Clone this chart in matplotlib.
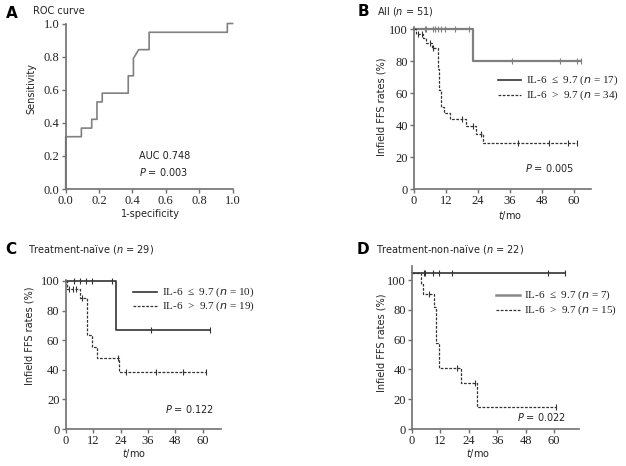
import numpy as np
import matplotlib
matplotlib.use("Agg")
import matplotlib.pyplot as plt
from matplotlib.lines import Line2D

# ---------------- data ----------------
# Panel A: ROC curve
roc_fpr = [0, 0, 0.094, 0.094, 0.156, 0.156, 0.1875, 0.1875, 0.219, 0.219,
           0.375, 0.375, 0.406, 0.406, 0.4375, 0.5, 0.5, 0.969, 0.969, 1.0]
roc_tpr = [0, 0.316, 0.316, 0.368, 0.368, 0.421, 0.421, 0.526, 0.526, 0.579,
           0.579, 0.684, 0.684, 0.789, 0.842, 0.842, 0.947, 0.947, 1.0, 1.0]
roc_ticks = [0.0, 0.2, 0.4, 0.6, 0.8, 1.0]
roc_ticklabels = ["0.0", "0.2", "0.4", "0.6", "0.8", "1.0"]

# Panel B: All (n = 51)
b_low_t = [0, 22.0]
b_low_s = [100, 80]
b_low_end = 62.5
b_low_cens = [4.1, 4.5, 7.0, 8.0, 9.0, 10.3, 11.5, 15.5, 20.5, 36.9, 54.8, 61.2, 62.5]
b_high_t = [0, 0.8, 3.5, 4.5, 6.7, 8.9, 9.4, 10.0, 11.3, 13.5, 19.4, 23.2, 26.0]
b_high_s = [100, 97.1, 94.1, 91.2, 88.2, 75.0, 62.0, 51.0, 47.7, 43.8, 39.2, 34.4, 28.6]
b_high_end = 61.0
b_high_cens = [1.5, 3.0, 6.0, 7.3, 18.1, 22.2, 25.0, 38.9, 50.6, 57.9, 61.0]

# Panel C: Treatment-naive (n = 29)
c_low_t = [0, 22.0]
c_low_s = [100, 66.7]
c_low_end = 63.0
c_low_cens = [3.8, 6.1, 8.9, 11.6, 20.2, 37.1, 63.0]
c_high_t = [0, 0.6, 6.4, 9.3, 11.5, 13.7, 23.4]
c_high_s = [100, 94.7, 88.4, 63.5, 55.6, 48.2, 38.3]
c_high_end = 61.2
c_high_cens = [1.4, 3.3, 4.7, 7.1, 23.0, 26.4, 39.3, 51.4, 61.2]

# Panel D: Treatment-non-naive (n = 22)
d_low_t = [0]
d_low_s = [104.5]
d_low_end = 64.4
d_low_cens = [5.1, 5.6, 8.9, 11.3, 16.7, 57.3, 64.4]
d_high_t = [0, 3.7, 4.6, 9.3, 10.0, 11.3, 20.8, 27.6]
d_high_s = [104.5, 97.0, 90.3, 82.0, 57.4, 40.7, 30.6, 15.0]
d_high_end = 60.7
d_high_cens = [7.0, 19.1, 26.5, 60.7]

km_xticks = [0, 12, 24, 36, 48, 60]
km_yticks = [0, 20, 40, 60, 80, 100]

# ---------------- style ----------------
W, H = 626, 466
fig = plt.figure(figsize=(W / 100, H / 100), dpi=100)
SPINE = "#707070"
SERIF = "Liberation Serif"
LAB = 7
SANS = ["DejaVu Sans"]
plt.rcParams["mathtext.fontset"] = "dejavusans"


def px_axes(left, top, right, bottom):
    return fig.add_axes([left / W, 1 - bottom / H, (right - left) / W, (bottom - top) / H])


def style(ax):
    for s in ["top", "right"]:
        ax.spines[s].set_visible(False)
    for s in ["left", "bottom"]:
        ax.spines[s].set_color(SPINE)
        ax.spines[s].set_linewidth(1.2)
    ax.tick_params(direction="out", length=3, width=1, color=SPINE, pad=1.5,
                   labelsize=9, labelcolor="#222222", labelfontfamily=SERIF)


def ftext(x, y, s, **kw):
    kw.setdefault("family", SANS)
    kw.setdefault("size", LAB)
    kw.setdefault("color", "#222222")
    fig.text(x / W, 1 - y / H, s, **kw)


def km(ax, t, s, end, cens, dashed, color, lw=1.2):
    x = list(t) + [end]
    y = list(s) + [s[-1]]
    if dashed:
        ax.step(x, y, where="post", color=color, lw=0.9, dashes=(2.2, 1.2), clip_on=False)
    else:
        ax.step(x, y, where="post", color=color, lw=lw, clip_on=False)
    idx = np.searchsorted(np.array(t), np.array(cens), side="right") - 1
    ax.plot(cens, np.array(s)[idx], ls="none", marker="|", ms=4, mew=0.8,
            color=color, clip_on=False)


def legend(x0, x1, xt, y1, y2, l1, l2, c1, c2, lw1=1.2):
    fig.add_artist(Line2D([x0 / W, x1 / W], [1 - y1 / H] * 2, color=c1, lw=lw1,
                          transform=fig.transFigure))
    fig.add_artist(Line2D([x0 / W, x1 / W], [1 - y2 / H] * 2, color=c2, lw=0.9,
                          dashes=(2.2, 1.2), transform=fig.transFigure))
    ftext(xt, y1, l1, va="center", family=SERIF, size=8)
    ftext(xt, y2, l2, va="center", family=SERIF, size=8)


# ---------------- Panel A ----------------
axA = px_axes(65.7, 23.5, 232.5, 189)
axA.plot(roc_fpr, roc_tpr, color="#808080", lw=1.2, clip_on=False)
axA.set_xlim(0, 1)
axA.set_ylim(0, 1)
axA.set_xticks(roc_ticks)
axA.set_xticklabels(roc_ticklabels)
axA.set_yticks(roc_ticks)
axA.set_yticklabels(roc_ticklabels)
style(axA)
ftext(12, 13, "A", weight="bold", size=11, ha="center", va="center", color="black")
ftext(33, 11, "ROC curve", va="center")
ftext(31, 89, "Sensitivity", rotation=90, ha="center", va="center")
ftext(150, 214, "1-specificity", ha="center", va="center")
ftext(139, 156, "AUC 0.748", va="center")
ftext(139, 172, "$P$ = 0.003", va="center")

# ---------------- Panel B ----------------
axB = px_axes(414, 27.4, 591, 189)
km(axB, b_low_t, b_low_s, b_low_end, b_low_cens, False, "#808080", lw=1.6)
km(axB, b_high_t, b_high_s, b_high_end, b_high_cens, True, "#333333")
axB.set_xlim(0, 66.4)
axB.set_ylim(0, 101)
axB.set_xticks(km_xticks)
axB.set_yticks(km_yticks)
style(axB)
ftext(363, 12, "B", weight="bold", size=11, ha="center", va="center", color="black")
ftext(377, 12, "All ($n$ = 51)", va="center")
ftext(381, 107, "Infield FFS rates (%)", rotation=90, ha="center", va="center")
ftext(510, 215, "$t$/mo", ha="center", va="center")
ftext(525, 168, "$P$ = 0.005", va="center")
legend(498, 521, 526, 80, 95, "IL-6  ≤  9.7 ($n$ = 17)", "IL-6  >  9.7 ($n$ = 34)",
       "#333333", "#333333")

# ---------------- Panel C ----------------
axC = px_axes(65.7, 279.5, 221, 429)
km(axC, c_low_t, c_low_s, c_low_end, c_low_cens, False, "#333333")
km(axC, c_high_t, c_high_s, c_high_end, c_high_cens, True, "#333333")
axC.set_xlim(0, 67.9)
axC.set_ylim(0, 101)
axC.set_xticks(km_xticks)
axC.set_yticks(km_yticks)
style(axC)
ftext(11, 250, "C", weight="bold", size=11, ha="center", va="center", color="black")
ftext(28, 250, "Treatment-naïve ($n$ = 29)", va="center")
ftext(30, 336, "Infield FFS rates (%)", rotation=90, ha="center", va="center")
ftext(134, 454, "$t$/mo", ha="center", va="center")
ftext(165, 409, "$P$ = 0.122", va="center")
legend(133, 157, 162, 292, 306, "IL-6  ≤  9.7 ($n$ = 10)", "IL-6  >  9.7 ($n$ = 19)",
       "#333333", "#333333")

# ---------------- Panel D ----------------
axD = px_axes(412, 266, 579, 429)
km(axD, d_low_t, d_low_s, d_low_end, d_low_cens, False, "#333333")
km(axD, d_high_t, d_high_s, d_high_end, d_high_cens, True, "#333333")
axD.set_xlim(0, 70.5)
axD.set_ylim(0, 109.4)
axD.set_xticks(km_xticks)
axD.set_yticks(km_yticks)
style(axD)
ftext(363, 250, "D", weight="bold", size=11, ha="center", va="center", color="black")
ftext(376, 250, "Treatment-non-naïve ($n$ = 22)", va="center")
ftext(381, 343, "Infield FFS rates (%)", rotation=90, ha="center", va="center")
ftext(478, 454, "$t$/mo", ha="center", va="center")
ftext(517, 417, "$P$ = 0.022", va="center")
legend(496, 520, 524, 295, 310, "IL-6  ≤  9.7 ($n$ = 7)", "IL-6  >  9.7 ($n$ = 15)",
       "#888888", "#333333", lw1=1.8)

fig.savefig("out.png", dpi=100)
